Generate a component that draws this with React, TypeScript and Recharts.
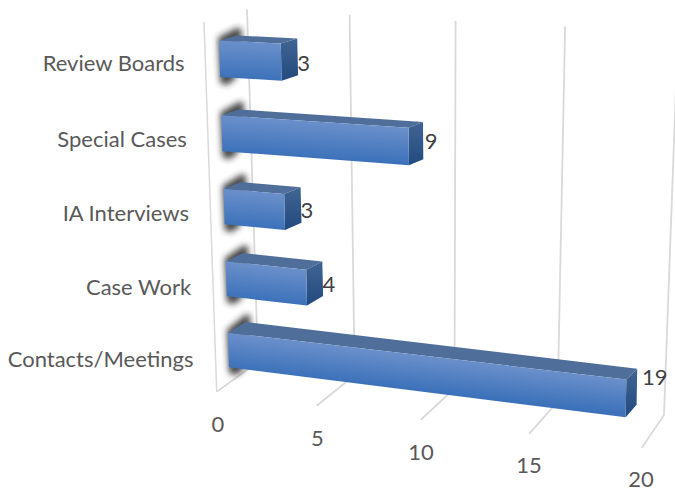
import React from "react";
import { BarChart, Bar, XAxis, YAxis, CartesianGrid, LabelList } from "recharts";

const categories = ["Review Boards", "Special Cases", "IA Interviews", "Case Work", "Contacts/Meetings"];
const values = [3, 9, 3, 4, 19];
const xTicks = [0, 5, 10, 15, 20];
const rows = categories.map((name, i) => ({ name, value: values[i] }));

const W = 675, H = 489;
const PL = 200, PT = 20, PW = 400, PH = 400;
const FONT = "Lato, 'Open Sans', sans-serif";
const FS = 22;

type Pt = [number, number];
const lerp = (a: number, b: number, t: number) => a + (b - a) * t;
const uOf = (x: number) => (x - PL) / PW;
const vOf = (y: number) => (y - PT) / PH;
const warp = (u: number) => u - 0.064 * u * (1 - u);
const warpFloor = (u: number) => u - 0.08 * u * (1 - u);

// Flat plot coordinates -> oblique 3-D projection
const front = (u: number, v: number): Pt => {
  const bow = 13.2 * v * (1 - v);
  return [
    lerp(218.5 + 11.1 * v, 654.5 - 6.9 * v, warp(u)),
    lerp(21.3 + 364.1 * v, 40.3 + 399.5 * v, u) + bow,
  ];
};
const deep = (u: number, v: number): Pt => {
  const p = front(u, v);
  return [p[0] + 17.5 - 7 * u, p[1] - (5 + 2.5 * v + 6 * v * v * v)];
};
const wallTop = (u: number): Pt => [lerp(247, 678, warp(u)), lerp(9.5, 32, u)];
const wallBottom = (u: number): Pt => [lerp(258, 664, warp(u)), lerp(362, 415, u)];
const floorFront = (u: number): Pt => [lerp(216.7, 641.7, warpFloor(u)), lerp(391.7, 448, u)];
const labelPos = (u: number): Pt => [lerp(218, 641, warpFloor(u)), lerp(426.5, 481.5, u)];

const pts = (a: Pt[]) => a.map((p) => `${p[0].toFixed(1)},${p[1].toFixed(1)}`).join(" ");
const GRID = "#d9d9d9";

const GridLine = (props: any) => {
  const u = uOf(props.x1);
  const t = wallTop(u), b = wallBottom(u), f = floorFront(u);
  return (
    <g key={props.key}>
      {u < 0.001 && <line x1={204} y1={22} x2={f[0]} y2={f[1]} stroke={GRID} strokeWidth={1.5} />}
      <polyline points={pts([t, b, f])} fill="none" stroke={GRID} strokeWidth={1.8} />
    </g>
  );
};

const Box = (props: any) => {
  const { x, y, width, height, index } = props;
  const u0 = uOf(x), u1 = uOf(x + width), v0 = vOf(y), v1 = vOf(y + height);
  const a = front(u0, v0), b = front(u1, v0), c = front(u1, v1), d = front(u0, v1);
  const e = deep(u0, v0), f = deep(u1, v0), g = deep(u1, v1);
  // gradient runs square to the bar's slanted top edge
  const ex = b[0] - a[0], ey = b[1] - a[1];
  const len = Math.hypot(ex, ey) || 1;
  const nx = -ey / len, ny = ex / len;
  const span = (d[0] - a[0]) * nx + (d[1] - a[1]) * ny;
  const id = `f${index}`;
  return (
    <g>
      <defs>
        <filter id={`blur${index}`} x="-60%" y="-60%" width="220%" height="220%">
          <feGaussianBlur stdDeviation={3.4} />
        </filter>
        <linearGradient id={id} gradientUnits="userSpaceOnUse" x1={a[0]} y1={a[1]} x2={a[0] + nx * span} y2={a[1] + ny * span}>
          <stop offset="0%" stopColor="#6b90cb" />
          <stop offset="100%" stopColor="#3d72ba" />
        </linearGradient>
        <linearGradient id={`${id}s`} x1="0" y1="0" x2="0" y2="1">
          <stop offset="0%" stopColor="#406594" />
          <stop offset="100%" stopColor="#234a7e" />
        </linearGradient>
      </defs>
      <polygon
        points={pts([
          [a[0] - 1, a[1] - 3],
          [e[0] + 1, e[1] - 8],
          [e[0] + 5, e[1] - 6],
          [e[0] + 5, e[1] + 8],
          [d[0] + 15, d[1] + 2],
          [d[0] + 7, d[1] + 8],
          [d[0], d[1] + 6],
        ])}
        fill="#262626"
        opacity={0.85}
        filter={`url(#blur${index})`}
      />
      <polygon points={pts([a, e, f, b])} fill="#4f6e99" />
      <polygon points={pts([b, f, g, c])} fill={`url(#${id}s)`} />
      <polygon points={pts([a, b, c, d])} fill={`url(#${id})`} />
    </g>
  );
};

const CatTick = (props: any) => {
  const v = vOf(props.y);
  const p = front(0, v);
  return (
    <text x={p[0] - 35} y={p[1] + 6.5 + 5 * v} textAnchor="end" dominantBaseline="middle" fontFamily={FONT} fontSize={FS} fill="#595959">
      {props.payload.value}
    </text>
  );
};

const ValTick = (props: any) => {
  const p = labelPos(uOf(props.x));
  return (
    <text x={p[0]} y={p[1]} textAnchor="middle" dominantBaseline="middle" fontFamily={FONT} fontSize={FS} fill="#595959">
      {props.payload.value}
    </text>
  );
};

const ValueLabel = (props: any) => {
  const { x, y, width, height, value } = props;
  const v = vOf(y + height / 2);
  const u = uOf(x + width);
  const p = front(u, v);
  return (
    <text x={p[0] + 16} y={p[1] + 5 - 10 * u - 11 * u * u - 5 * v} dominantBaseline="middle" fontFamily={FONT} fontSize={FS} fill="#404040">
      {value}
    </text>
  );
};

export default function App() {
  return (
    <div style={{ position: "absolute", left: 0, top: 0, width: W, height: H, background: "#fff" }}>
      <BarChart
        width={W}
        height={H}
        data={rows}
        layout="vertical"
        barCategoryGap="25.5%"
        margin={{ left: 0, top: PT, right: W - PL - PW, bottom: 0 }}
      >
        <CartesianGrid horizontal={false} vertical={GridLine as any} />
        <XAxis type="number" domain={[0, 20]} ticks={xTicks} height={H - PT - PH} axisLine={false} tickLine={false} tick={ValTick as any} interval={0} />
        <YAxis type="category" dataKey="name" width={PL} axisLine={false} tickLine={false} tick={CatTick as any} interval={0} />
        <Bar dataKey="value" isAnimationActive={false} shape={Box as any}>
          <LabelList dataKey="value" content={ValueLabel as any} />
        </Bar>
      </BarChart>
    </div>
  );
}
